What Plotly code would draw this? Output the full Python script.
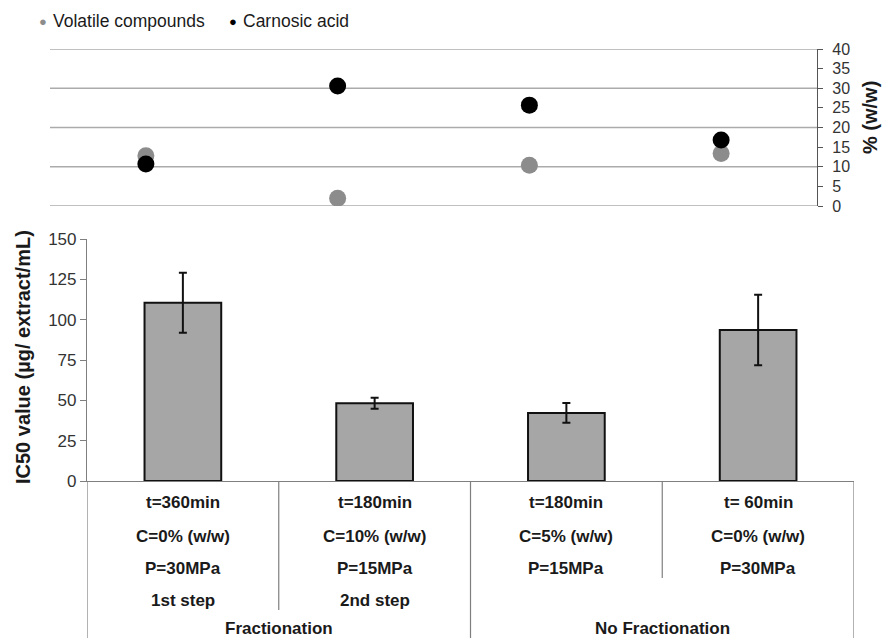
import plotly.graph_objects as go

# ---- data -------------------------------------------------------------
cat_pos = [0, 1, 2, 3]
times = ["t=360min", "t=180min", "t=180min", "t= 60min"]
cosolvent = ["C=0% (w/w)", "C=10% (w/w)", "C=5% (w/w)", "C=0% (w/w)"]
pressure = ["P=30MPa", "P=15MPa", "P=15MPa", "P=30MPa"]
steps = ["1st step", "2nd step", "", ""]
groups = ["Fractionation", "No Fractionation"]
group_pos = [0.5, 2.5]

ic50 = [110.5, 48.2, 42.2, 93.6]
ic50_err = [18.6, 3.4, 6.1, 21.9]

volatile = [12.8, 2.0, 10.4, 13.4]
carnosic = [10.7, 30.6, 25.7, 16.8]

pct_ticks = [0, 5, 10, 15, 20, 25, 30, 35, 40]
pct_grid = [0, 10, 20, 30, 40]

# ---- layout helpers (pixel -> paper) -----------------------------------
W, H = 882, 638
def px(x):
    return x / W
def py(y):
    return 1 - y / H

FONT = "Liberation Sans, Arial, sans-serif"
GRID = "#ababab"
AXIS = "#7f7f7f"
TEXT = "#1a1a1a"

fig = go.Figure()

# IC50 bars
fig.add_trace(go.Bar(
    x=cat_pos, y=ic50, width=0.4,
    marker=dict(color="#a6a6a6", line=dict(color="#111111", width=2)),
    error_y=dict(type="data", array=ic50_err, color="#111111",
                 thickness=2, width=4),
    xaxis="x", yaxis="y", showlegend=False,
))

# composition scatter (top panel)
fig.add_trace(go.Scatter(
    x=cat_pos, y=volatile, mode="markers", name="Volatile compounds",
    marker=dict(color="#8c8c8c", size=17),
    xaxis="x2", yaxis="y2", showlegend=False,
))
fig.add_trace(go.Scatter(
    x=cat_pos, y=carnosic, mode="markers", name="Carnosic acid",
    marker=dict(color="#000000", size=17),
    xaxis="x2", yaxis="y2", showlegend=False,
))

shapes = []
# horizontal gridlines for the top panel
for v in pct_grid:
    shapes.append(dict(type="line", xref="x2 domain", yref="y2",
                       x0=0, x1=1, y0=v, y1=v,
                       line=dict(color=GRID, width=1.5), layer="below"))

# category separators below the bar axis
sep_x = [-0.5, 0.5, 1.5, 2.5, 3.5]
sep_bottom = [638, 610, 638, 578, 638]
for xv, yb in zip(sep_x, sep_bottom):
    shapes.append(dict(type="line", xref="x", yref="paper",
                       x0=xv, x1=xv, y0=py(481), y1=py(yb),
                       line=dict(color=AXIS, width=1.2)))

annotations = []
label_font = dict(family=FONT, size=17, color=TEXT)
rows = [(times, 502), (cosolvent, 536), (pressure, 568), (steps, 600)]
for texts, ypix in rows:
    for xv, t in zip(cat_pos, texts):
        if t:
            annotations.append(dict(x=xv, y=py(ypix), xref="x", yref="paper",
                                    text="<b>%s</b>" % t, showarrow=False,
                                    font=label_font, xanchor="center",
                                    yanchor="middle"))
for xv, g in zip(group_pos, groups):
    annotations.append(dict(x=xv, y=py(628), xref="x", yref="paper",
                            text="<b>%s</b>" % g, showarrow=False,
                            font=label_font, xanchor="center",
                            yanchor="middle"))

# axis titles
annotations.append(dict(x=px(23), y=py(357), xref="paper", yref="paper",
                        text="<b>IC50 value (µg/ extract/mL)</b>",
                        textangle=-90, showarrow=False,
                        xanchor="center", yanchor="middle",
                        font=dict(family=FONT, size=20, color=TEXT)))
annotations.append(dict(x=px(870), y=py(118), xref="paper", yref="paper",
                        text="<b>% (w/w)</b>", textangle=-90,
                        showarrow=False, xanchor="center", yanchor="middle",
                        font=dict(family=FONT, size=20, color=TEXT)))

# legend
legend_items = [("Volatile compounds", "#8c8c8c", 43),
                ("Carnosic acid", "#000000", 233)]
for name, col, xpix in legend_items:
    annotations.append(dict(x=px(xpix), y=py(21), xref="paper", yref="paper",
                            text="●", showarrow=False, xanchor="center",
                            yanchor="middle",
                            font=dict(family=FONT, size=13, color=col)))
    annotations.append(dict(x=px(xpix + 8), y=py(21), xref="paper",
                            yref="paper", text=name, showarrow=False,
                            xanchor="left", yanchor="middle",
                            font=dict(family=FONT, size=17.5, color=TEXT)))

fig.update_layout(
    width=W, height=H,
    margin=dict(l=0, r=0, t=0, b=0, autoexpand=False),
    paper_bgcolor="white", plot_bgcolor="white",
    font=dict(family=FONT, size=15, color="#333333"),
    bargap=0.6,
    xaxis=dict(domain=[px(87), px(854)], range=[-0.5, 3.5],
               showline=True, linecolor=AXIS, linewidth=1.2,
               showticklabels=False, ticks="", showgrid=False,
               zeroline=False, anchor="y", automargin=False),
    yaxis=dict(domain=[py(481), py(239)], range=[0, 150], dtick=25,
               showline=True, linecolor=AXIS, linewidth=1.2,
               ticks="outside", ticklen=6, tickcolor=AXIS,
               showgrid=False, zeroline=False, anchor="x",
               automargin=False,
               tickfont=dict(size=17, color="#333333")),
    xaxis2=dict(domain=[px(50), px(817)], range=[-0.5, 3.5],
                visible=False, anchor="y2", automargin=False),
    yaxis2=dict(domain=[py(206), py(49)], range=[0, 40],
                tickvals=pct_ticks, side="right", anchor="x2",
                showline=True, linecolor="#555555", linewidth=1.2,
                ticks="outside", ticklen=5, tickcolor="#555555",
                ticklabelstandoff=6,
                showgrid=False, zeroline=False, automargin=False,
                tickfont=dict(size=16, color="#333333")),
    shapes=shapes,
    annotations=annotations,
)

fig.write_html("out.html")
